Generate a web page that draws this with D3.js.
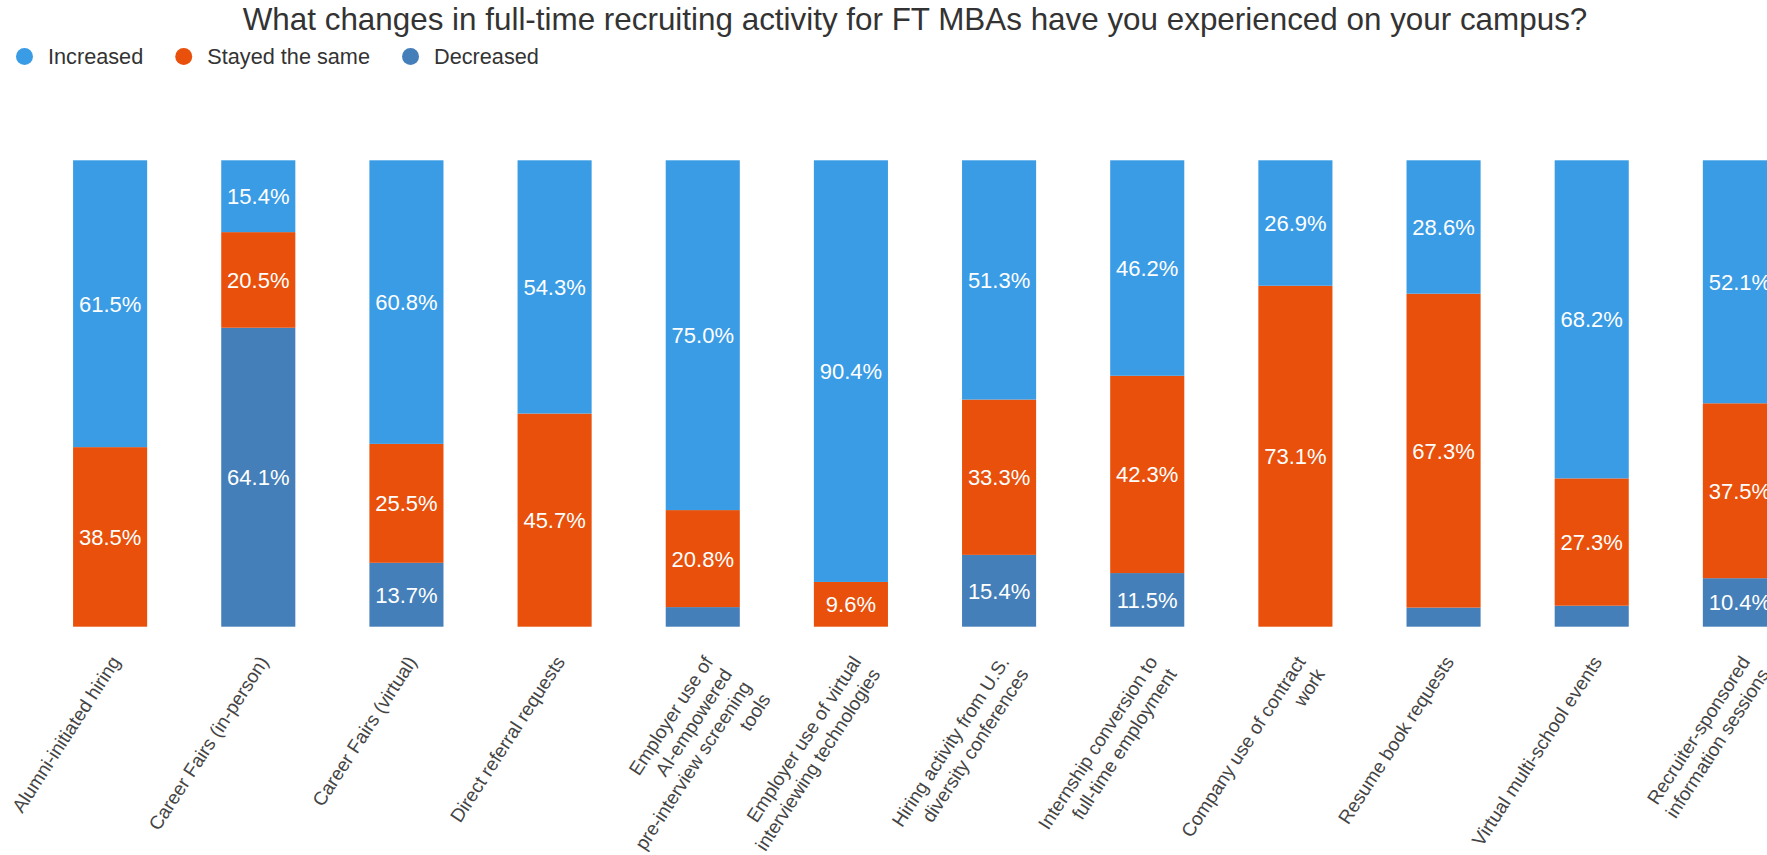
<!DOCTYPE html>
<html>
<head>
<meta charset="utf-8">
<script src="https://cdn.jsdelivr.net/npm/d3@7"></script>
<style>
  html, body { margin: 0; padding: 0; background: #fff; overflow: hidden; }
  svg { display: block; font-family: Arial, "Liberation Sans", sans-serif; }
</style>
</head>
<body>
<svg id="chart" width="1767" height="855"></svg>
<script>
// Survey question and response categories
const title = "What changes in full-time recruiting activity for FT MBAs have you experienced on your campus?";

// Category labels; "\n" marks a line break in the axis label
const categories = [
  "Alumni-initiated hiring",
  "Career Fairs (in-person)",
  "Career Fairs (virtual)",
  "Direct referral requests",
  "Employer use of\nAI-empowered\npre-interview screening\ntools",
  "Employer use of virtual\ninterviewing technologies",
  "Hiring activity from U.S.\ndiversity conferences",
  "Internship conversion to\nfull-time employment",
  "Company use of contract\nwork",
  "Resume book requests",
  "Virtual multi-school events",
  "Recruiter-sponsored\ninformation sessions"
];

// Share of respondents (%) per answer
const increased = [61.5, 15.4, 60.8, 54.3, 75.0, 90.4, 51.3, 46.2, 26.9, 28.6, 68.2, 52.1];
const stayedSame = [38.5, 20.5, 25.5, 45.7, 20.8, 9.6, 33.3, 42.3, 73.1, 67.3, 27.3, 37.5];
const decreased = [0, 64.1, 13.7, 0, 4.2, 0, 15.4, 11.5, 0, 4.1, 4.5, 10.4];

const seriesNames = ["Increased", "Stayed the same", "Decreased"];
const seriesColors = ["#3a9ce5", "#e8500b", "#457fb9"];

// Stack from the bottom: Decreased, Stayed the same, Increased
const rows = categories.map((c, i) => ({
  category: c,
  "Increased": increased[i],
  "Stayed the same": stayedSame[i],
  "Decreased": decreased[i]
}));
const stackKeys = ["Decreased", "Stayed the same", "Increased"];
const stacked = d3.stack().keys(stackKeys)(rows);
const color = d3.scaleOrdinal().domain(seriesNames).range(seriesColors);

const svg = d3.select("#chart");

// Scales
const x = d3.scaleBand()
  .domain(categories)
  .range([-1, 1851])
  .paddingInner(0.5)
  .paddingOuter(0.5);
const y = d3.scaleLinear().domain([0, 100]).range([626.7, 160.3]);

// Title
svg.append("text")
  .attr("x", 915)
  .attr("y", 30)
  .attr("text-anchor", "middle")
  .attr("fill", "#333")
  .style("font-size", "31.4px")
  .text(title);

// Legend
const legend = svg.append("g").attr("class", "legend");
let lx = 15;
seriesNames.forEach(name => {
  const item = legend.append("g");
  item.append("circle")
    .attr("cx", lx + 9.5)
    .attr("cy", 56.5)
    .attr("r", 8.5)
    .attr("fill", color(name));
  const t = item.append("text")
    .attr("x", lx + 33)
    .attr("y", 64)
    .attr("fill", "#333")
    .style("font-size", "21.7px")
    .text(name);
  lx = lx + 33 + t.node().getComputedTextLength() + 31;
});

// Bars
const layers = svg.append("g").attr("class", "bars")
  .selectAll("g")
  .data(stacked)
  .join("g")
  .attr("fill", d => color(d.key));

layers.selectAll("rect")
  .data(d => d.map(p => ({ key: d.key, p })))
  .join("rect")
  .attr("x", d => x(d.p.data.category))
  .attr("width", x.bandwidth())
  .attr("y", d => y(d.p[1]))
  .attr("height", d => y(d.p[0]) - y(d.p[1]));

// Value labels inside segments (small segments stay unlabelled)
const labels = svg.append("g").attr("class", "value-labels");
stacked.forEach(layer => {
  layer.forEach(p => {
    const v = p[1] - p[0];
    if (v < 5) return;
    labels.append("text")
      .attr("x", x(p.data.category) + x.bandwidth() / 2)
      .attr("y", (y(p[0]) + y(p[1])) / 2 + 7.9)
      .attr("text-anchor", "middle")
      .attr("fill", "#fff")
      .style("font-size", "22px")
      .text(p.data[layer.key].toFixed(1) + "%");
  });
});

// Category axis with rotated, right-aligned multi-line labels
const axis = svg.append("g")
  .attr("transform", `translate(0, ${y(0)})`)
  .call(d3.axisBottom(x).tickSize(0).tickPadding(0));
axis.select(".domain").remove();
axis.selectAll(".tick text")
  .attr("fill", "#444")
  .attr("text-anchor", "end")
  .attr("y", null)
  .attr("dy", null)
  .style("font-size", "19px")
  .style("font-family", "Arial, 'Liberation Sans', sans-serif")
  .attr("transform", "translate(11, 35) rotate(-57)")
  .each(function(d) {
    const t = d3.select(this);
    t.text(null);
    d.split("\n").forEach((line, i) => {
      t.append("tspan")
        .attr("x", 0)
        .attr("dy", i === 0 ? 0 : "1.2em")
        .text(line);
    });
  });
</script>
</body>
</html>
